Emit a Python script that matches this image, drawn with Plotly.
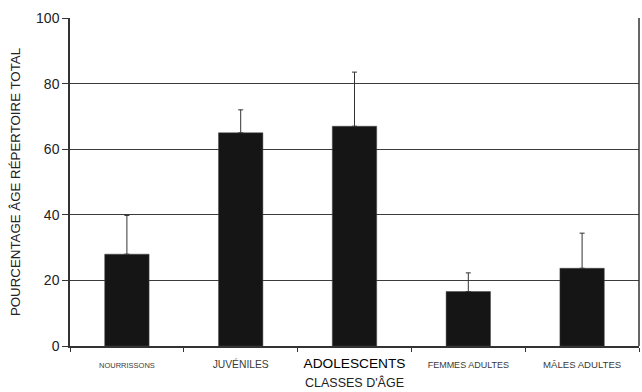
import plotly.graph_objects as go

# Age classes and the share of the total repertoire used by each
classes = ["NOURRISSONS", "JUVÉNILES", "ADOLESCENTS", "FEMMES ADULTES", "MÂLES ADULTES"]
label_sizes = [7.5, 10.3, 13.7, 9, 9.6]
label_colors = ["#3a3a3a", "#3a3a3a", "#000000", "#3a3a3a", "#3a3a3a"]
pourcentage = [28, 65, 67, 16.6, 23.7]
erreur_sup = [11.8, 7.0, 16.5, 5.7, 10.7]

tick_text = [
    f"<span style='font-size:{s}px;color:{c}'>{t}</span>"
    for t, s, c in zip(classes, label_sizes, label_colors)
]

fig = go.Figure(
    go.Bar(
        x=classes,
        y=pourcentage,
        width=0.39,
        marker=dict(color="#151515", line=dict(color="#444444", width=0.5)),
        error_y=dict(
            type="data",
            symmetric=False,
            array=erreur_sup,
            arrayminus=[0] * len(erreur_sup),
            color="#333333",
            thickness=1,
            width=2.5,
        ),
    )
)

fig.update_layout(
    width=642,
    height=392,
    margin=dict(l=70, r=3, t=18, b=46),
    paper_bgcolor="white",
    plot_bgcolor="white",
    showlegend=False,
    font=dict(family="Liberation Sans, Arial, sans-serif", color="#222222"),
    bargap=0.6,
)

fig.update_xaxes(
    type="category",
    tickmode="array",
    tickvals=classes,
    ticktext=tick_text,
    tickson="boundaries",
    ticks="outside",
    ticklen=4,
    tickcolor="#333333",
    ticklabelstandoff=6,
    showline=True,
    linecolor="#333333",
    linewidth=1.5,
    mirror=False,
    showgrid=False,
    title=dict(text="CLASSES D'ÂGE", font=dict(size=12.5, color="#222222"), standoff=8),
)

fig.update_yaxes(
    range=[0, 100],
    tickvals=[0, 20, 40, 60, 80, 100],
    ticks="outside",
    ticklen=6,
    tickcolor="#333333",
    tickfont=dict(size=14, color="#222222"),
    showline=True,
    linecolor="#333333",
    linewidth=1.5,
    showgrid=True,
    gridcolor="#3c3c3c",
    gridwidth=1.3,
    zeroline=False,
    title=dict(text="POURCENTAGE ÂGE RÉPERTOIRE TOTAL", font=dict(size=13.3, color="#222222"), standoff=12),
)

# right-hand frame line
fig.add_shape(
    type="line", xref="paper", yref="paper", x0=1, x1=1, y0=0, y1=1,
    line=dict(color="#333333", width=1.5),
)

fig.write_html("out.html")
